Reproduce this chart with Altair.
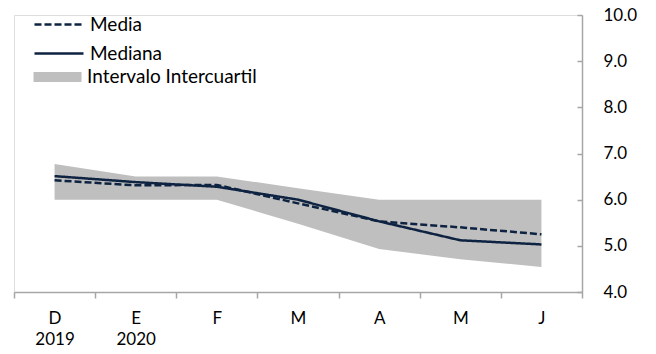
import altair as alt
import pandas as pd

meses = ["D", "E", "F", "M", "A", "M", "J"]
anios = ["2019", "2020", "", "", "", "", ""]
media = [6.42, 6.31, 6.32, 5.92, 5.53, 5.40, 5.25]
mediana = [6.51, 6.38, 6.28, 6.00, 5.53, 5.12, 5.03]
q1 = [6.00, 6.00, 6.00, 5.48, 4.93, 4.71, 4.54]
q3 = [6.77, 6.50, 6.50, 6.25, 6.00, 6.00, 6.00]

NAVY = "#0d2341"
GRAY = "#bfbfbf"
AXIS = "#a6a6a6"
FONT = "Lato"

idx = list(range(len(meses)))
band_df = pd.DataFrame({"i": idx, "q1": q1, "q3": q3, "banda": "Intervalo Intercuartil"})
lines_df = pd.DataFrame({
    "i": idx * 2,
    "valor": media + mediana,
    "serie": ["Media"] * len(idx) + ["Mediana"] * len(idx),
})

js_m = "[" + ",".join("'%s'" % m for m in meses) + "]"
js_y = "[" + ",".join("'%s'" % y for y in anios) + "]"
label_expr = f"{js_y}[datum.value] == '' ? {js_m}[datum.value] : [{js_m}[datum.value], {js_y}[datum.value]]"

W, H = 568, 277

xscale = alt.Scale(type="band", paddingInner=0, paddingOuter=0)
xaxis = alt.Axis(
    title=None, labelExpr=label_expr, tickBand="extent", labelAngle=0,
    domainColor=AXIS, domainWidth=1.5, tickColor=AXIS, tickWidth=1.5, tickSize=6,
    labelFontSize=17, labelFont=FONT, labelColor="#000000", labelPadding=12,
    labelLineHeight=21, grid=False,
)
yscale = alt.Scale(domain=[4, 10], nice=False, zero=False)

x_enc = alt.X("i:O", scale=xscale, axis=xaxis)

area = alt.Chart(band_df).mark_area(opacity=1).encode(
    x=x_enc,
    y=alt.Y("q1:Q", scale=yscale, axis=alt.Axis(
        orient="left", offset=-W, labels=False, ticks=True, tickSize=5,
        tickColor=AXIS, tickWidth=1.5, domainColor=AXIS, domainWidth=1.5,
        grid=False, title=None, values=[4, 5, 6, 7, 8, 9, 10])),
    y2="q3:Q",
    fill=alt.Fill("banda:N", scale=alt.Scale(range=[GRAY]), legend=alt.Legend(
        title=None, orient="none", legendX=33.5, legendY=52,
        symbolType="M-2.4,-0.5H2.4V0.5H-2.4Z", symbolSize=400, symbolStrokeWidth=0,
        labelFont=FONT, labelFontSize=19, labelColor="#000000", labelOffset=19.5,
        labelLimit=400,
    )),
)

lines = alt.Chart(lines_df).mark_line(color=NAVY, strokeWidth=2.5).encode(
    x=x_enc,
    y=alt.Y("valor:Q", scale=yscale, axis=alt.Axis(
        orient="right", domain=False, ticks=False, labels=True, grid=False,
        title=None, format=".1f", values=[4, 5, 6, 7, 8, 9, 10],
        labelFont=FONT, labelFontSize=17, labelColor="#000000", labelPadding=21)),
    strokeDash=alt.StrokeDash("serie:N", scale=alt.Scale(
        domain=["Media", "Mediana"], range=[[7, 3], [1, 0]]), legend=alt.Legend(
        title=None, orient="none", legendX=33.5, legendY=-2,
        symbolType="M-2.45,0H2.45", symbolSize=400, symbolStrokeWidth=2.5,
        symbolStrokeColor=NAVY, rowPadding=7,
        labelFont=FONT, labelFontSize=19, labelColor="#000000", labelOffset=19.5,
        labelLimit=400,
    )),
)

chart = alt.layer(area, lines).resolve_axis(y="independent").properties(
    width=W, height=H,
    autosize=alt.AutoSizeParams(type="none"),
    padding={"left": 6, "top": 7, "right": 60, "bottom": 54},
).configure_view(stroke=None).configure(background="white")

chart.save("out.html", embed_options={"renderer": "svg", "actions": False})
